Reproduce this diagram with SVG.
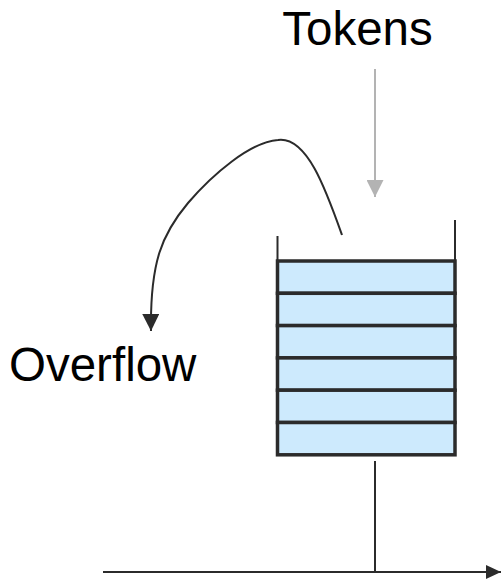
<svg xmlns="http://www.w3.org/2000/svg" width="501" height="582" viewBox="0 0 501 582">
  <style>
    .label { font-family: "Liberation Sans", Arial, sans-serif; font-size: 47.5px; fill: #000; }
    .wire { fill: none; stroke: #2b2b2b; stroke-width: 2; }
    .slot { fill: #cdeafd; stroke: #2b2b2b; stroke-width: 3.5; }
    .feed { fill: none; stroke: #b3b3b3; stroke-width: 2; }
  </style>
  <defs>
    <marker id="headDark" markerUnits="userSpaceOnUse" markerWidth="17" markerHeight="17" viewBox="0 0 16 16" refX="16" refY="8" orient="auto">
      <path d="M0,0 L16,8 L0,16 Z" fill="#2b2b2b"/>
    </marker>
    <marker id="headGray" markerUnits="userSpaceOnUse" markerWidth="17" markerHeight="17" viewBox="0 0 16 16" refX="16" refY="8" orient="auto">
      <path d="M0,0 L16,8 L0,16 Z" fill="#b3b3b3"/>
    </marker>
    <marker id="headAxis" markerUnits="userSpaceOnUse" markerWidth="15" markerHeight="15" viewBox="0 0 15 14" refX="15" refY="7" orient="auto">
      <path d="M0,0 L15,7 L0,14 Z" fill="#2b2b2b"/>
    </marker>
  </defs>

  <g id="tokens">
    <text class="label" x="357.5" y="45" text-anchor="middle">Tokens</text>
  </g>

  <g id="overflow">
    <text class="label" x="9" y="381">Overflow</text>
  </g>

  <g id="bucket">
    <!-- open walls above the fill level -->
    <line class="wire" x1="277.5" y1="236" x2="277.5" y2="262"/>
    <line class="wire" x1="455" y1="220" x2="455" y2="262"/>
    <!-- six stacked tokens -->
    <rect class="slot" x="277.5" y="261" width="177.5" height="32.3"/>
    <rect class="slot" x="277.5" y="293.3" width="177.5" height="32.3"/>
    <rect class="slot" x="277.5" y="325.6" width="177.5" height="32.3"/>
    <rect class="slot" x="277.5" y="357.9" width="177.5" height="32.3"/>
    <rect class="slot" x="277.5" y="390.2" width="177.5" height="32.3"/>
    <rect class="slot" x="277.5" y="422.5" width="177.5" height="32.3"/>
  </g>

  <g id="connectors">
    <!-- incoming tokens -->
    <line class="feed" x1="375" y1="69" x2="375" y2="197" marker-end="url(#headGray)"/>
    <!-- overflow spill -->
    <path class="wire" d="M342,235 C326,190 307,136 278,140 C250,142 212,175 188,203 C162,234 150,262 151,331" marker-end="url(#headDark)"/>
    <!-- output drop and time axis -->
    <line class="wire" x1="375" y1="461" x2="375" y2="572"/>
    <line class="wire" x1="103" y1="572" x2="501" y2="572" marker-end="url(#headAxis)"/>
  </g>
</svg>
